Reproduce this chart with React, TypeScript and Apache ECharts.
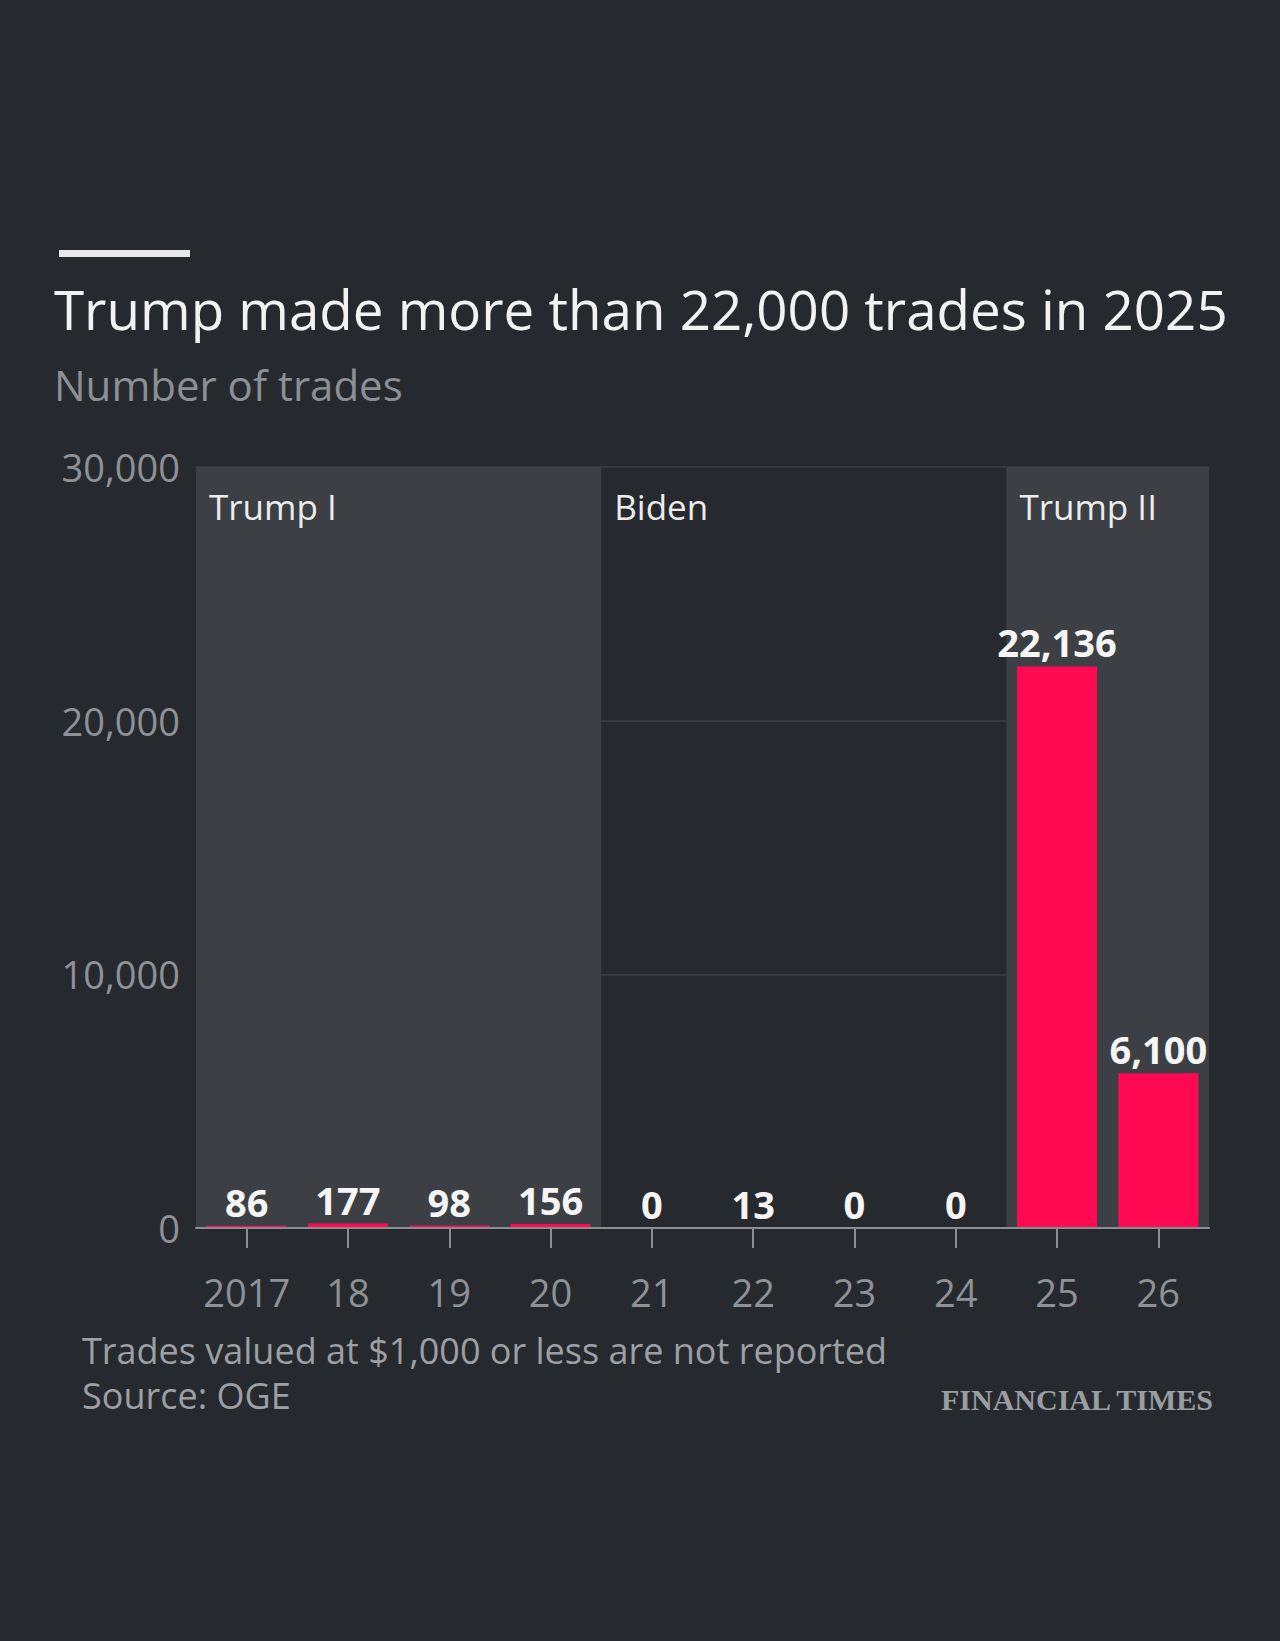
import React, { useEffect, useRef } from 'react';
import * as echarts from 'echarts';

const categories = ['2017', '18', '19', '20', '21', '22', '23', '24', '25', '26'];
const trades = [86, 177, 98, 156, 0, 13, 0, 0, 22136, 6100];
const yMax = 30000;
const yStep = 10000;
const eras = [
  { name: 'Trump I', from: '2017', to: '20', shaded: true },
  { name: 'Biden', from: '21', to: '24', shaded: false },
  { name: 'Trump II', from: '25', to: '26', shaded: true },
];
const TITLE = 'Trump made more than 22,000 trades in 2025';
const SUBTITLE = 'Number of trades';
const NOTE = 'Trades valued at $1,000 or less are not reported';
const SOURCE = 'Source: OGE';
const BRAND = 'FINANCIAL TIMES';

const W = 1280;
const H = 1641;
const FONT = '"Open Sans", "Noto Sans", sans-serif';
const fmt = (v: number) => Number(v).toLocaleString('en-US');

export default function App() {
  const ref = useRef<HTMLDivElement>(null);
  useEffect(() => {
    document.body.style.margin = '0';
    document.body.style.background = '#262a2e';
    if (!ref.current) return;
    const chart = echarts.init(ref.current, null, { renderer: 'svg', width: W, height: H });
    const option: any = {
      animation: false,
      backgroundColor: '#262a2e',
      grid: { left: 196, right: 71, top: 467, bottom: 413, outerBoundsMode: 'none' },
      xAxis: [
        {
          type: 'category',
          data: categories,
          z: 5,
          axisLine: { show: true, lineStyle: { color: '#8a8d91', width: 2 } },
          axisTick: {
            show: true,
            interval: 0,
            alignWithLabel: true,
            inside: false,
            length: 20,
            lineStyle: { color: '#8a8d91', width: 2 },
          },
          axisLabel: { interval: 0, color: '#8e9195', fontSize: 38, fontFamily: FONT, margin: 45 },
          splitLine: { show: false },
        },
        { type: 'value', min: 0, max: categories.length, show: false },
      ],
      yAxis: {
        type: 'value',
        min: 0,
        max: yMax,
        interval: yStep,
        axisLine: { show: false },
        axisTick: { show: false },
        axisLabel: {
          color: '#8e9195',
          fontSize: 38,
          fontFamily: FONT,
          margin: 16,
          padding: [8, 0, 0, 0],
          formatter: (v: number) => fmt(v),
        },
        splitLine: { lineStyle: { color: '#3d4145', width: 1.5 } },
      },
      series: [
        {
          type: 'scatter',
          xAxisIndex: 1,
          data: [],
          silent: true,
          markArea: {
            silent: true,
            label: {
              show: true,
              position: 'insideTopLeft',
              distance: 0,
              offset: [13, 22],
              color: '#ececec',
              fontSize: 35,
              fontFamily: FONT,
            },
            data: eras.map((e) => [
              {
                name: e.name,
                xAxis: categories.indexOf(e.from),
                yAxis: 0,
                itemStyle: { color: e.shaded ? '#3c3f44' : 'rgba(0,0,0,0)' },
              },
              { xAxis: categories.indexOf(e.to) + 1, yAxis: yMax },
            ]),
          },
        },
        {
          type: 'bar',
          data: trades,
          barWidth: 80,
          itemStyle: { color: '#ff0a52' },
          label: {
            show: true,
            position: 'top',
            distance: 5,
            color: '#f5f5f5',
            fontWeight: 'bold',
            fontSize: 38,
            fontFamily: FONT,
            formatter: (p: any) => fmt(p.value),
          },
        },
      ],
      graphic: [
        { type: 'rect', shape: { x: 59, y: 250, width: 131, height: 7 }, style: { fill: '#e8e8e8' } },
        {
          type: 'text', x: 54, y: 309,
          style: { text: TITLE, fontSize: 54.7, fontFamily: FONT, fill: '#f2f2f2', align: 'left', verticalAlign: 'middle' },
        },
        {
          type: 'text', x: 54, y: 384,
          style: { text: SUBTITLE, fontSize: 42, fontFamily: FONT, fill: '#8c8f93', align: 'left', verticalAlign: 'middle' },
        },
        {
          type: 'text', x: 82, y: 1373,
          style: {
            text: NOTE + '\n' + SOURCE, fontSize: 36, lineHeight: 45, fontFamily: FONT,
            fill: '#9c9fa3', align: 'left', verticalAlign: 'middle',
          },
        },
        {
          type: 'text', x: 1213, y: 1399,
          style: {
            text: BRAND, fontSize: 30, fontWeight: 'bold', fontFamily: '"Liberation Serif", serif',
            fill: '#9a9da1', align: 'right', verticalAlign: 'middle',
          },
        },
      ],
    };
    chart.setOption(option);
    return () => chart.dispose();
  }, []);
  return <div ref={ref} style={{ width: W, height: H }} />;
}
